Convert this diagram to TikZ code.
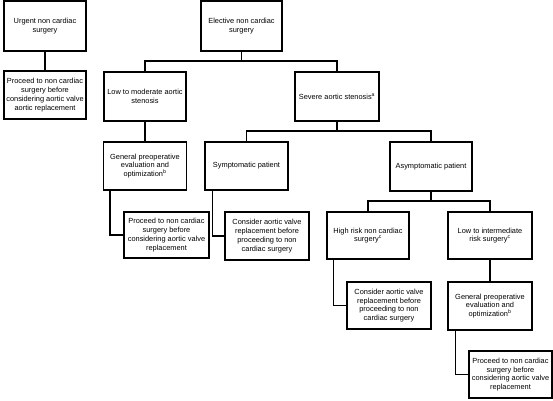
\documentclass[tikz,border=0pt]{standalone}
\usepackage{fontspec}
\setmainfont{Liberation Sans}
\begin{document}
\begin{tikzpicture}[x=1pt,y=-1pt,
  box/.style={draw,line width=1.5pt,rectangle,inner sep=0pt,align=center,
    font=\fontsize{7.4}{8.8}\selectfont},
  conn/.style={line width=1.5pt}]
\useasboundingbox (0,0) rectangle (553,400);
\newcommand{\bx}[5]{\node[box,minimum width=#3pt,minimum height=#4pt] (#1) at #2 {#5};}
\bx{urgent}{(45,26)}{82}{50}{Urgent non cardiac\\surgery}
\bx{proc1}{(45,95)}{82}{48}{Proceed to non cardiac\\surgery before\\considering aortic valve\\aortic replacement}
\bx{elective}{(241.5,26)}{81}{50}{Elective non cardiac\\surgery}
\bx{lowmod}{(145,96.5)}{82}{49}{Low to moderate aortic\\stenosis}
\bx{severe}{(337,96.5)}{84}{49}{Severe aortic stenosis\textsuperscript{a}}
\bx{gen1}{(145,166)}{83}{48}{General preoperative\\evaluation and\\optimization\textsuperscript{b}}
\bx{sympt}{(246.5,166)}{83}{48}{Symptomatic patient}
\bx{proc2}{(166.5,235)}{85}{46}{Proceed to non cardiac\\surgery before\\considering aortic valve\\replacement}
\bx{cons1}{(267,236)}{84}{48}{Consider aortic valve\\replacement before\\proceeding to non\\cardiac surgery}
\bx{asympt}{(431,166.5)}{82}{49}{Asymptomatic patient}
\bx{high}{(368,235.5)}{82}{47}{High risk non cardiac\\surgery\textsuperscript{c}}
\bx{lowint}{(490,235.5)}{84}{47}{Low to intermediate\\risk surgery\textsuperscript{c}}
\bx{cons2}{(389,305.5)}{84}{47}{Consider aortic valve\\replacement before\\proceeding to non\\cardiac surgery}
\bx{gen2}{(490,306)}{84}{48}{General preoperative\\evaluation and\\optimization\textsuperscript{b}}
\bx{proc3}{(510.5,374.5)}{83}{47}{Proceed to non cardiac\\surgery before\\considering aortic valve\\replacement}
\coordinate (j1) at (241.5,61);
\coordinate (j2) at (337,131);
\coordinate (j3) at (431,201);
\draw[conn] (urgent.south) -- (proc1.north);
\draw[conn] (elective.south) -- (j1);
\draw[conn] (lowmod.north) |- (j1) -| (severe.north);
\draw[conn] (lowmod.south) -- (gen1.north);
\draw[conn] (severe.south) -- (j2);
\draw[conn] (sympt.north) |- (j2) -| (asympt.north);
\draw[conn] (asympt.south) -- (j3);
\draw[conn] (high.north) |- (j3) -| (lowint.north);
\draw[conn] (lowint.south) -- (gen2.north);
\draw[conn] ([xshift=7pt]gen1.south west) |- (proc2.west);
\draw[conn] ([xshift=8pt]sympt.south west) |- (cons1.west);
\draw[conn] ([xshift=7pt]high.south west) |- (cons2.west);
\draw[conn] ([xshift=8pt]gen2.south west) |- (proc3.west);
\end{tikzpicture}
\end{document}
